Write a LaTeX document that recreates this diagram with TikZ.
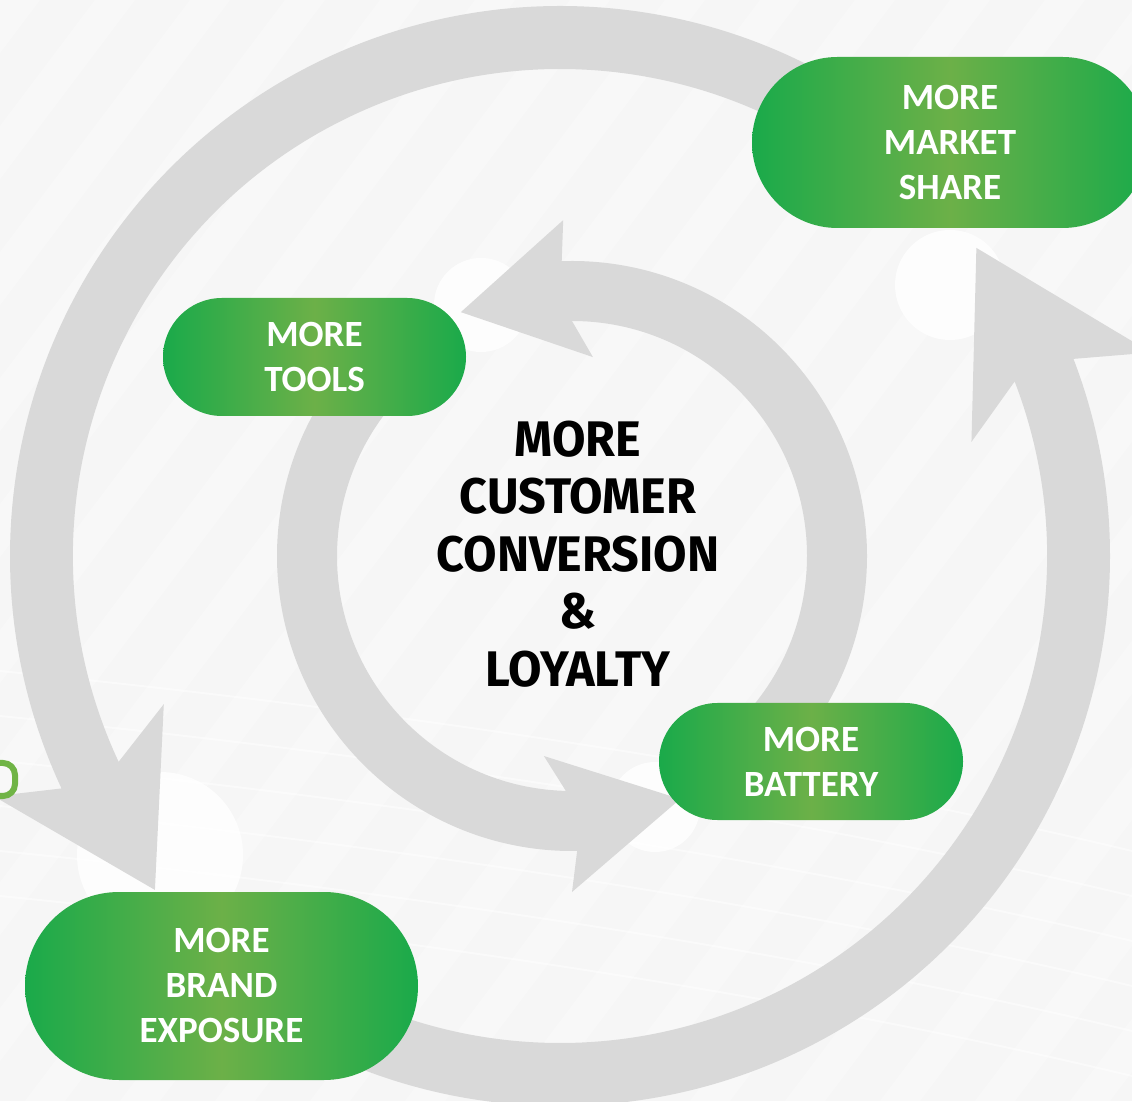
\documentclass[tikz,border=0pt]{standalone}
\usepackage{fontspec}
\usepackage{tikz}
\usetikzlibrary{shapes.misc}
\newfontfamily\pillfont{Carlito}
\newfontfamily\hubfont{Fira Sans}[FakeStretch=0.97]
\definecolor{backdrop}{HTML}{F6F6F6}
\definecolor{ringgray}{HTML}{D9D9D9}
\definecolor{pilllight}{RGB}{108,176,72}
\definecolor{pilldark}{RGB}{26,170,74}
\definecolor{tagline}{RGB}{112,180,70}

\begin{document}
\begin{tikzpicture}[x=1pt, y=1pt,
    ring/.style={fill=ringgray},
    glow/.style={fill=white, opacity=0.85},
    pill/.style={rounded rectangle, inner sep=0pt, left color=pilldark, right color=pilldark, middle color=pilllight,
        text=white, align=center, font=\pillfont\bfseries\fontsize{37}{45}\selectfont}]
    \useasboundingbox (0,0) rectangle (1132,1101);
    \clip (0,0) rectangle (1132,1101);
    \fill[backdrop] (0,0) rectangle (1132,1101);
    \foreach \s in {-1400,-1305,...,1100}
        \fill[white, opacity=0.3] (\s,0) -- (\s+40,0) -- (\s+870,1101) -- (\s+830,1101) -- cycle;
    \foreach \k in {0,1,...,5}
        \draw[white, line width=2pt, opacity=0.45] (0,430-\k*45) .. controls (400,390-\k*45) and (800,330-\k*45) .. (1132,250-\k*45);

    \fill[glow] (160,246) circle (83);
    \fill[glow] (950,816) circle (55);
    \fill[glow] (481,796) circle (47);
    \fill[glow] (655,294) circle (45);

    \begin{scope}[shift={(560,545)}]
        \fill[ring] (48:550) arc[start angle=48, end angle=205, radius=550] -- (203:615) -- (219.5:525)
            -- (200.5:423) -- (205:487) arc[start angle=205, end angle=48, radius=487] -- cycle;
        \fill[ring] (232:550) arc[start angle=232, end angle=381, radius=550] -- (379:625) -- (396.5:518)
            -- (375.5:427) -- (381:487) arc[start angle=381, end angle=232, radius=487] -- cycle;
    \end{scope}

    \begin{scope}[shift={(572,545)}]
        \fill[ring] (-45:295) arc[start angle=-45, end angle=92, radius=295] -- (91.5:336) -- (114.5:268)
            -- (84:200) -- (90:235) arc[start angle=90, end angle=-45, radius=235] -- cycle;
        \fill[ring] (138:295) arc[start angle=138, end angle=271, radius=295] -- (270:336) -- (294:266)
            -- (262:202) -- (268.5:235) arc[start angle=268.5, end angle=138, radius=235] -- cycle;
    \end{scope}

    \node[pill, minimum width=396pt, minimum height=171pt] (share) at (950,958.5) {MORE\\MARKET\\SHARE};
    \node[pill, minimum width=303pt, minimum height=118pt] (tools) at (314.5,744) {MORE\\TOOLS};
    \node[pill, minimum width=304pt, minimum height=117pt] (battery) at (811,339.5) {MORE\\BATTERY};
    \node[pill, minimum width=393pt, minimum height=188pt] (brand) at (221.5,115) {MORE\\BRAND\\EXPOSURE};

    \node[align=center, font=\hubfont\bfseries\fontsize{50}{57.5}\selectfont] (hub) at (578,547)
        {MORE\\CUSTOMER\\CONVERSION\\\&\\LOYALTY};

    \draw[tagline, line width=6pt, rounded corners=12pt] (-10,338) -- (15,338) -- (15,305) -- (-10,305);
\end{tikzpicture}
\end{document}
